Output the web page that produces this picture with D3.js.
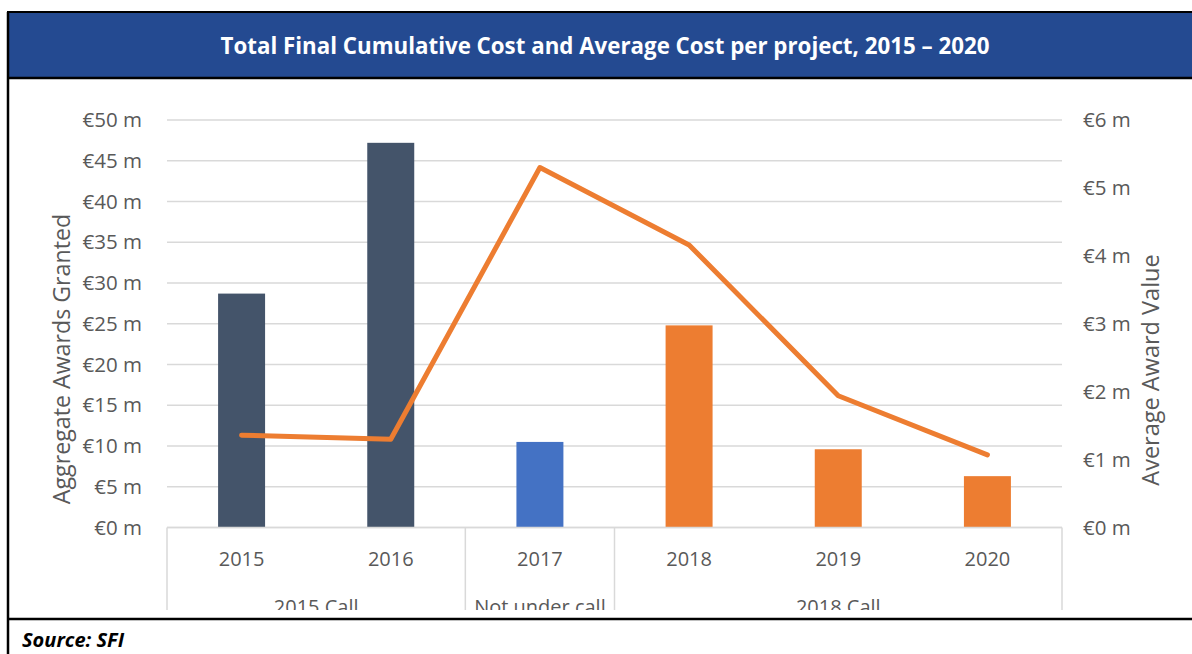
<!DOCTYPE html>
<html>
<head>
<meta charset="utf-8">
<script src="https://d3js.org/d3.v7.min.js"></script>
<style>
  body { margin: 0; background: #fff; }
  text { font-family: "Open Sans", sans-serif; }
</style>
</head>
<body>
<script>
  // chart data
  var years = ["2015", "2016", "2017", "2018", "2019", "2020"];
  var groups = ["2015 Call", "2015 Call", "Not under call", "2018 Call", "2018 Call", "2018 Call"];
  var aggregate = [28.7, 47.2, 10.5, 24.8, 9.6, 6.3];   // € m, left axis
  var average = [1.36, 1.30, 5.30, 4.16, 1.94, 1.07];    // € m, right axis
  var barColours = ["#44546A", "#44546A", "#4472C4", "#ED7D31", "#ED7D31", "#ED7D31"];
  var leftTicks = [0, 5, 10, 15, 20, 25, 30, 35, 40, 45, 50];
  var rightTicks = [0, 1, 2, 3, 4, 5, 6];

  var width = 1192, height = 654;
  var plotLeft = 167, plotRight = 1062, plotTop = 120, plotBottom = 527.5;
  var grey = "#595959";

  var svg = d3.select("body").append("svg")
    .attr("width", width)
    .attr("height", height);

  // title banner
  svg.append("rect")
    .attr("x", 8).attr("y", 12)
    .attr("width", width).attr("height", 66)
    .style("fill", "#244A91");
  svg.append("text")
    .attr("x", 605).attr("y", 54)
    .attr("text-anchor", "middle")
    .style("font-weight", "bold")
    .style("font-size", "22.3px")
    .style("fill", "#fff")
    .text("Total Final Cumulative Cost and Average Cost per project, 2015 \u2013 2020");

  // scales
  var x = d3.scaleBand().domain(years).range([plotLeft, plotRight]).padding(0);
  var yLeft = d3.scaleLinear().domain([0, 50]).range([plotBottom, plotTop]);
  var yRight = d3.scaleLinear().domain([0, 6]).range([plotBottom, plotTop]);
  var barWidth = x.bandwidth() * 0.315;

  // gridlines
  svg.append("g")
    .selectAll("line")
    .data(leftTicks)
    .enter().append("line")
    .attr("x1", plotLeft).attr("x2", plotRight)
    .attr("y1", function(d) { return yLeft(d); })
    .attr("y2", function(d) { return yLeft(d); })
    .attr("stroke", "#D9D9D9")
    .attr("stroke-width", 1.5);

  // left axis
  var leftAxis = svg.append("g")
    .attr("transform", "translate(" + (plotLeft - 22) + ",0)")
    .call(d3.axisLeft(yLeft).tickValues(leftTicks).tickSize(0)
      .tickFormat(function(d) { return "\u20AC" + d + " m"; }));
  leftAxis.select(".domain").remove();
  leftAxis.selectAll("text").style("font-size", "20.5px").style("fill", grey)
    .style("font-family", "'Open Sans', sans-serif");

  // right axis
  var rightAxis = svg.append("g")
    .attr("transform", "translate(" + (plotRight + 21) + ",0)")
    .call(d3.axisRight(yRight).tickValues(rightTicks).tickSize(0)
      .tickFormat(function(d) { return "\u20AC" + d + " m"; }));
  rightAxis.select(".domain").remove();
  rightAxis.selectAll("text").attr("x", 0).style("font-size", "20.5px").style("fill", grey)
    .style("font-family", "'Open Sans', sans-serif");

  // axis titles
  svg.append("text")
    .attr("transform", "translate(70,359) rotate(-90)")
    .attr("text-anchor", "middle")
    .style("font-size", "23.2px").style("fill", grey)
    .text("Aggregate Awards Granted");
  svg.append("text")
    .attr("transform", "translate(1159,370) rotate(-90)")
    .attr("text-anchor", "middle")
    .style("font-size", "23.5px").style("fill", grey)
    .text("Average Award Value");

  // bars
  svg.append("g")
    .selectAll("rect")
    .data(years)
    .enter().append("rect")
    .attr("x", function(d) { return x(d) + x.bandwidth() / 2 - barWidth / 2; })
    .attr("y", function(d, i) { return yLeft(aggregate[i]); })
    .attr("width", barWidth)
    .attr("height", function(d, i) { return yLeft(0) - yLeft(aggregate[i]); })
    .style("fill", function(d, i) { return barColours[i]; });

  // category axis, clipped by the frame like the original
  svg.append("clipPath").attr("id", "axisclip")
    .append("rect").attr("x", 0).attr("y", 0).attr("width", width).attr("height", 610);
  var catAxis = svg.append("g").attr("clip-path", "url(#axisclip)");

  catAxis.append("line")
    .attr("x1", plotLeft).attr("x2", plotRight)
    .attr("y1", plotBottom).attr("y2", plotBottom)
    .attr("stroke", "#D9D9D9").attr("stroke-width", 1.5);

  // group spans from the group array
  var spans = [];
  years.forEach(function(d, i) {
    if (i > 0 && groups[i] === groups[i - 1]) spans[spans.length - 1].end = d;
    else spans.push({ name: groups[i], start: d, end: d });
  });
  var edges = [plotLeft].concat(spans.map(function(s) { return x(s.end) + x.bandwidth(); }));
  catAxis.selectAll(".sep")
    .data(edges)
    .enter().append("line")
    .attr("class", "sep")
    .attr("x1", function(d) { return d; }).attr("x2", function(d) { return d; })
    .attr("y1", plotBottom).attr("y2", 620)
    .attr("stroke", "#D9D9D9").attr("stroke-width", 1.5);

  catAxis.selectAll(".year")
    .data(years)
    .enter().append("text")
    .attr("class", "year")
    .attr("x", function(d) { return x(d) + x.bandwidth() / 2; })
    .attr("y", 566)
    .attr("text-anchor", "middle")
    .style("font-size", "20px").style("fill", grey)
    .text(function(d) { return d; });

  catAxis.selectAll(".group")
    .data(spans)
    .enter().append("text")
    .attr("class", "group")
    .attr("x", function(d) { return (x(d.start) + x(d.end) + x.bandwidth()) / 2; })
    .attr("y", 614)
    .attr("text-anchor", "middle")
    .style("font-size", "20px").style("fill", grey)
    .text(function(d) { return d.name; });

  // average award line
  var line = d3.line()
    .x(function(d, i) { return x(years[i]) + x.bandwidth() / 2; })
    .y(function(d) { return yRight(d); });
  svg.append("path")
    .datum(average)
    .attr("d", line)
    .attr("fill", "none")
    .attr("stroke", "#ED7D31")
    .attr("stroke-width", 5)
    .attr("stroke-linecap", "round")
    .attr("stroke-linejoin", "round");

  // outer frame
  svg.append("line").attr("x1", 8).attr("x2", 8).attr("y1", 12).attr("y2", height)
    .attr("stroke", "#000").attr("stroke-width", 2.5);
  svg.append("line").attr("x1", 7).attr("x2", width).attr("y1", 12).attr("y2", 12)
    .attr("stroke", "#000").attr("stroke-width", 2);
  svg.append("line").attr("x1", 7).attr("x2", width).attr("y1", 78).attr("y2", 78)
    .attr("stroke", "#000").attr("stroke-width", 2.5);
  svg.append("line").attr("x1", 7).attr("x2", width).attr("y1", 619).attr("y2", 619)
    .attr("stroke", "#000").attr("stroke-width", 2.5);

  // source note
  svg.append("text")
    .attr("x", 22).attr("y", 647)
    .style("font-size", "20px")
    .style("font-weight", "bold")
    .style("font-style", "italic")
    .style("fill", "#000")
    .text("Source: SFI");
</script>
</body>
</html>
